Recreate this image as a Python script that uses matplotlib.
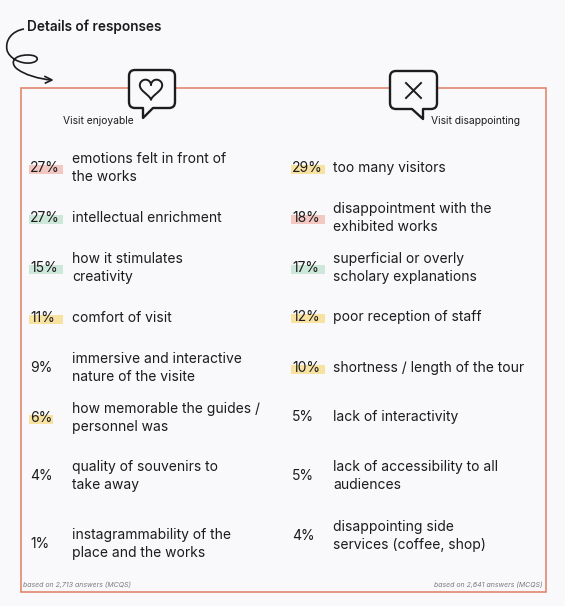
import numpy as np
import matplotlib.pyplot as plt
from matplotlib.path import Path
from matplotlib.patches import PathPatch, Rectangle

plt.rcParams['font.family'] = ['Inter', 'DejaVu Sans']

# data
left_pct = ["27%", "27%", "15%", "11%", "9%", "6%", "4%", "1%"]
left_labels = ["emotions felt in front of\nthe works",
               "intellectual enrichment",
               "how it stimulates\ncreativity",
               "comfort of visit",
               "immersive and interactive\nnature of the visite",
               "how memorable the guides /\npersonnel was",
               "quality of souvenirs to\ntake away",
               "instagrammability of the\nplace and the works"]
left_hl = ["pink", "green", "green", "yellow", None, "yellow", None, None]

right_pct = ["29%", "18%", "17%", "12%", "10%", "5%", "5%", "4%"]
right_labels = ["too many visitors",
                "disappointment with the\nexhibited works",
                "superficial or overly\nscholary explanations",
                "poor reception of staff",
                "shortness / length of the tour",
                "lack of interactivity",
                "lack of accessibility to all\naudiences",
                "disappointing side\nservices (coffee, shop)"]
right_hl = ["yellow", "pink", "green", "yellow", "yellow", None, None, None]

left_n = "based on 2,713 answers (MCQS)"
right_n = "based on 2,641 answers (MCQS)"

# layout
left_y = [168, 218, 268, 318, 368, 418, 476, 544]
right_y = [168, 218, 268, 317, 368, 417, 476, 536]
hl_colors = {"pink": "#f3c8c2", "green": "#cde7da", "yellow": "#f8e2a2"}
bg = "#f9f9fc"
ink = "#1c1c1c"

fig = plt.figure(figsize=(5.65, 6.06), dpi=100, facecolor=bg)
ax = fig.add_axes([0, 0, 1, 1])
ax.set_xlim(0, 565)
ax.set_ylim(606, 0)
ax.axis("off")
ax.set_facecolor(bg)

# frame
ax.add_patch(Rectangle((21, 88), 525, 504, fill=False, ec="#e0876d", lw=1.2))

# title + curly arrow
ax.text(27, 27, "Details of responses", fontsize=9.8, fontweight="semibold",
        color=ink, va="center", ha="left")
curl = Path([(24, 29), (12, 31), (5, 40), (7, 50),
             (9, 58), (20, 64), (30, 63),
             (40, 62), (40, 55), (28, 55),
             (14, 55), (10, 62), (16, 68),
             (24, 75), (40, 79), (51, 80)],
            [Path.MOVETO] + [Path.CURVE4] * 15)
ax.add_patch(PathPatch(curl, fill=False, lw=1.2, ec=ink))
ax.plot([45, 52, 45.5], [76.5, 80, 83], color=ink, lw=1.2)


def bubble(x0, y0, x1, y1, tail):
    r = 6
    t0, t1, tip = tail
    verts = [(x0 + r, y0), (x1 - r, y0), (x1, y0), (x1, y0 + r),
             (x1, y1 - r), (x1, y1), (x1 - r, y1)]
    codes = [Path.MOVETO, Path.LINETO, Path.CURVE3, Path.CURVE3,
             Path.LINETO, Path.CURVE3, Path.CURVE3]
    verts += [(t1, y1), tip, (t0, y1)]
    codes += [Path.LINETO, Path.LINETO, Path.LINETO]
    verts += [(x0 + r, y1), (x0, y1), (x0, y1 - r), (x0, y0 + r),
              (x0, y0), (x0 + r, y0), (x0 + r, y0)]
    codes += [Path.LINETO, Path.CURVE3, Path.CURVE3, Path.LINETO,
              Path.CURVE3, Path.CURVE3, Path.CLOSEPOLY]
    ax.add_patch(PathPatch(Path(verts, codes), fc=bg, ec=ink, lw=1.7,
                           joinstyle="round", zorder=3))


# heart bubble
bubble(129, 70, 175, 108, (143, 153, (143, 118)))
t = np.linspace(0, 2 * np.pi, 200)
hx = 16 * np.sin(t) ** 3
hy = 13 * np.cos(t) - 5 * np.cos(2 * t) - 2 * np.cos(3 * t) - np.cos(4 * t)
ax.plot(151 + hx * 0.7, 88 - hy * 0.7, color=ink, lw=1.4, zorder=4)

# cross bubble
bubble(390, 71, 437, 109, (412, 423, (423, 119)))
ax.plot([406, 421], [83, 98], color=ink, lw=1.4, zorder=4)
ax.plot([406, 421], [98, 83], color=ink, lw=1.4, zorder=4)

ax.text(63, 121, "Visit enjoyable", fontsize=7.4, color=ink, va="center")
ax.text(431, 121, "Visit disappointing", fontsize=7.4, color=ink, va="center")


def column(px, lx, pcts, labels, hls, ys):
    for p, lab, h, y in zip(pcts, labels, hls, ys):
        if h is not None:
            w = 34 if len(p) == 3 else 24
            ax.add_patch(Rectangle((px - 1, y - 3), w, 9,
                                   color=hl_colors[h], lw=0, zorder=1))
        ax.text(px, y, p, fontsize=10, color=ink, va="center", zorder=2)
        ax.text(lx, y, lab, fontsize=10, color=ink, va="center",
                linespacing=1.35, zorder=2)


column(30, 72, left_pct, left_labels, left_hl, left_y)
column(292, 333, right_pct, right_labels, right_hl, right_y)

ax.text(23, 585, left_n, fontsize=5, style="italic", color="#7a7a7a",
        va="center")
ax.text(543, 585, right_n, fontsize=5, style="italic", color="#7a7a7a",
        va="center", ha="right")

fig.savefig("out.png", dpi=100, facecolor=bg)
